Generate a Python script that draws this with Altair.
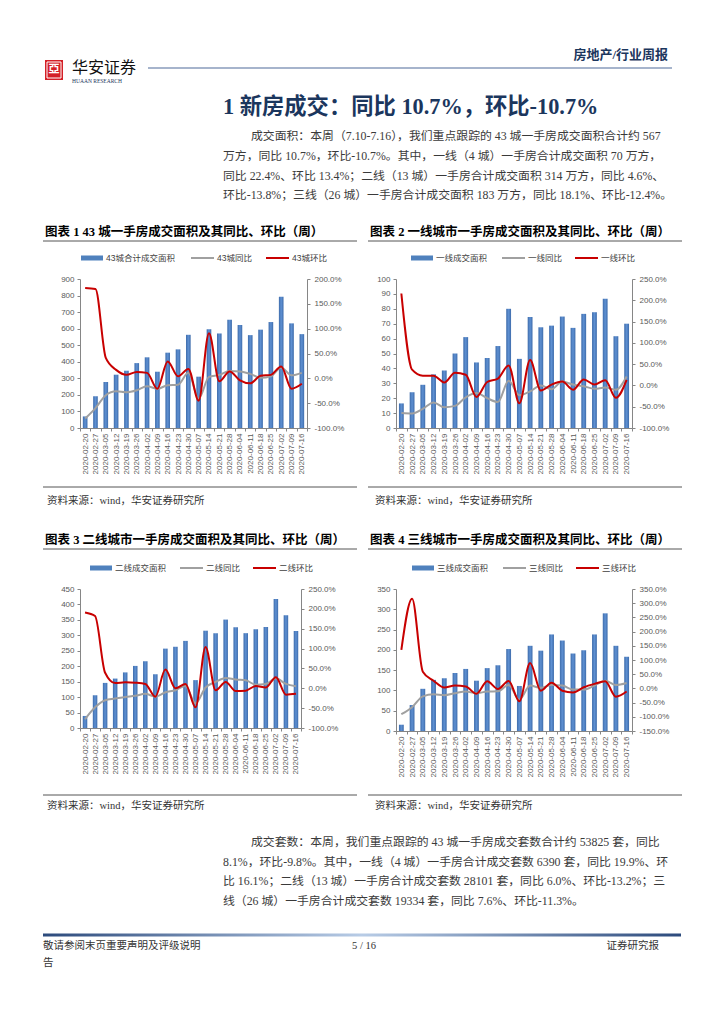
import altair as alt
import pandas as pd

# ---------------- data ----------------
dates = ["2020-02-20", "2020-02-27", "2020-03-05", "2020-03-12", "2020-03-19", "2020-03-26",
         "2020-04-02", "2020-04-09", "2020-04-16", "2020-04-23", "2020-04-30", "2020-05-07",
         "2020-05-14", "2020-05-21", "2020-05-28", "2020-06-04", "2020-06-11", "2020-06-18",
         "2020-06-25", "2020-07-02", "2020-07-09", "2020-07-16"]

area_43 = [70, 192, 278, 322, 346, 392, 427, 340, 455, 475, 563, 310, 596, 571, 654, 622, 561, 594, 640, 793, 632, 567]
yoy_43 = [-81, -60, -34, -26, -28, -24, -16, -21, -14, -13, 11, -41, 3, 7, 15, 14, 9, 1, 4, 22, 6, 11]
mom_43 = [182, 180, 41, 17, 7, 13, 11, -21, 34, 4, 19, -45, 91, -6, 14, -4, -10, 5, 7, 24, -21, -11]

area_t1 = [16.5, 24, 29, 36, 38.6, 50, 61, 44, 47, 55, 80, 46.4, 74.5, 67.6, 68.7, 74.8, 67.2, 76.6, 77.7, 86.8, 61.6, 70]
yoy_t1 = [-65, -66, -55, -40, -51, -48, -28, -18, -30, -39, 11, -23, -14, 0, -9, 9, 2, -2, -8, -5, -10, 21]
mom_t1 = [216, 37, 23, 23, 7, 30, 25, -27, 8, 16, 47, -42, 60, -12, 2, 9, -10, 14, 2, 12, -29, 13]

area_t2 = [39, 106, 146, 160, 180, 201, 216, 174, 257, 263, 282, 155, 315, 307, 351, 326, 307, 320, 327, 418, 365, 314]
yoy_t2 = [-78, -48, -30, -26, -22, -19, -14, -21, -10, -5, 6, -38, 2, 16, 26, 22, 20, 9, 11, 25, 11, 5]
mom_t2 = [191, 182, 39, 13, 15, 14, 11, -21, 47, 0, 11, -48, 104, -5, 16, -7, -6, 6, 2, 28, -16, -14]

area_t3 = [15.5, 64, 104, 126, 130, 143, 153, 124, 155, 162, 202, 111, 210, 198, 238, 223, 191, 199, 238, 290, 210, 183]
yoy_t3 = [-91, -66, -28, -21, -24, -17, -11, -17, -11, -10, 12, -40, 10, 2, 12, 10, -4, -4, 10, 27, 12, 19]
mom_t3 = [136, 316, 59, 27, 3, 10, 7, -19, 25, -2, 26, -45, 89, -8, 20, -8, -14, 4, 16, 25, -29, -11]

names_43 = ["43城合计成交面积", "43城同比", "43城环比"]
names_t1 = ["一线成交面积", "一线同比", "一线环比"]
names_t2 = ["二线成交面积", "二线同比", "二线环比"]
names_t3 = ["三线成交面积", "三线同比", "三线环比"]

captions = ["图表 1 43 城一手房成交面积及其同比、环比（周）",
            "图表 2 一线城市一手房成交面积及其同比、环比（周）",
            "图表 3 二线城市一手房成交面积及其同比、环比（周）",
            "图表 4 三线城市一手房成交面积及其同比、环比（周）"]
source = "资料来源：wind，华安证券研究所"

title_text = "1 新房成交：同比 10.7%，环比-10.7%"
para1 = ["成交面积：本周（7.10-7.16），我们重点跟踪的 43 城一手房成交面积合计约 567",
         "万方，同比 10.7%，环比-10.7%。其中，一线（4 城）一手房合计成交面积 70 万方，",
         "同比 22.4%、环比 13.4%；二线（13 城）一手房合计成交面积 314 万方，同比 4.6%、",
         "环比-13.8%；三线（26 城）一手房合计成交面积 183 万方，同比 18.1%、环比-12.4%。"]
para2 = ["成交套数：本周，我们重点跟踪的 43 城一手房成交套数合计约 53825 套，同比",
         "8.1%，环比-9.8%。其中，一线（4 城）一手房合计成交套数 6390 套，同比 19.9%、环",
         "比 16.1%；二线（13 城）一手房合计成交套数 28101 套，同比 6.0%、环比-13.2%；三",
         "线（26 城）一手房合计成交套数 19334 套，同比 7.6%、环比-11.3%。"]

# ---------------- styles ----------------
SANS = "Liberation Sans, Noto Sans CJK SC"
SERIF = "Liberation Serif, Noto Sans CJK SC"
CJK = "Noto Sans CJK SC"
BLUE = "#4f81bd"
GRAY = "#a0a0a0"
RED = "#c80000"
NAVY = "#1b365d"
AXC = "#868686"
LAB = "#595959"
BARGRAD = alt.LinearGradient(gradient="linear", x1=0, x2=1, y1=0, y2=0,
                             stops=[alt.GradientStop(color="#3e6cab", offset=0),
                                    alt.GradientStop(color="#5e90d2", offset=0.5),
                                    alt.GradientStop(color="#3e6cab", offset=1)])
FOOTGRAD = alt.LinearGradient(gradient="linear", x1=0, x2=1, y1=0, y2=0,
                              stops=[alt.GradientStop(color="#2c4a7c", offset=0),
                                     alt.GradientStop(color="#b8cce6", offset=0.5),
                                     alt.GradientStop(color="#2c4a7c", offset=1)])
PCT = "(datum.value < 0 ? '-' : '') + format(abs(datum.value), '.1f') + '%'"

ONE = pd.DataFrame({"k": [0]})


def txt(s, x, y, size, color="#333333", weight="normal", align="left", font=SERIF):
    return alt.Chart(ONE).mark_text(text=s, fontSize=size, color=color, fontWeight=weight,
                                    align=align, baseline="middle", font=font).encode(
        x=alt.value(x), y=alt.value(y))


def hline(x1, x2, y, color, w=1.0):
    return alt.Chart(ONE).mark_rule(color=color, strokeWidth=w).encode(
        x=alt.value(x1), x2=alt.value(x2), y=alt.value(y))


def box(x1, x2, y1, y2, **kw):
    return alt.Chart(ONE).mark_rect(**kw).encode(
        x=alt.value(x1), x2=alt.value(x2), y=alt.value(y1), y2=alt.value(y2))


def panel(area, yoy, mom, names, w, h, lmax, lstep, pmin, pmax, leg, extra):
    df = pd.DataFrame({"date": dates, "area": area, "yoy": yoy, "mom": mom})
    xenc = alt.X("date:N", sort=None, title=None,
                 scale=alt.Scale(paddingInner=0, paddingOuter=0),
                 axis=alt.Axis(labelAngle=-90, tickBand="extent", labelPadding=2,
                               labelOverlap=False, tickSize=3))
    base = alt.Chart(df)
    bars = base.mark_bar(width=alt.RelativeBandSize(0.45), fill=BARGRAD).encode(
        x=xenc,
        y=alt.Y("area:Q", title=None, scale=alt.Scale(domain=[0, lmax], nice=False),
                axis=alt.Axis(orient="left", values=list(range(0, lmax + 1, lstep)),
                              labelPadding=3, tickSize=3)))
    pscale = alt.Scale(domain=[pmin, pmax], nice=False, zero=False)
    gray = base.mark_line(color=GRAY, strokeWidth=2, interpolate="monotone").encode(
        x=xenc,
        y=alt.Y("yoy:Q", title=None, scale=pscale,
                axis=alt.Axis(orient="right", values=list(range(pmin, pmax + 1, 50)),
                              labelExpr=PCT, labelPadding=4, tickSize=3)))
    red = base.mark_line(color=RED, strokeWidth=2, interpolate="monotone").encode(
        x=xenc, y=alt.Y("mom:Q", title=None, scale=pscale, axis=None))
    lb, lg, lr = leg
    ly = -21
    legend = [
        box(lb, lb + 22, ly - 2.5, ly + 2.5, fill=BLUE),
        txt(names[0], lb + 25, ly, 8.5, "#404040", font=SANS),
        hline(lg, lg + 23, ly, GRAY, 2),
        txt(names[1], lg + 26, ly, 8.5, "#404040", font=SANS),
        hline(lr, lr + 23, ly, RED, 2),
        txt(names[2], lr + 26, ly, 8.5, "#404040", font=SANS),
    ]
    return alt.layer(bars, gray, red, *legend, *extra).resolve_scale(y="independent").properties(
        width=w, height=h)


def frame(cap, x0, x1, ycap, yline1, yline2, ysrc, xsrc):
    return [
        txt(cap, x0 + 2, ycap, 12.5, "#000000", weight="bold"),
        hline(x0, x1, yline1, "#555555", 1),
        hline(x0, x1, yline2, "#555555", 1),
        txt(source, xsrc, ysrc, 10.5, "#333333"),
    ]


# page-level elements, positioned relative to chart 1 plot origin
page = [
    box(-72, 636, -271, 737, opacity=0),
    box(-35, -17, -219, -199, fill="#d42027"),
    box(-33, -19, -217, -201, filled=False, stroke="white", strokeWidth=1),
    txt("亞", -26, -209, 11, "white", weight="bold", align="center", font=CJK),
    txt("华安证券", -8, -211, 16, "#111111", font=CJK),
    txt("HUAAN RESEARCH", -8, -198, 5.5, NAVY, font="Liberation Serif"),
    hline(68, 592, -211, "#4f6a9a", 1.2),
    txt("房地产/行业周报", 588, -224, 13, NAVY, weight="bold", align="right"),
    txt(title_text, 143, -172, 22.3, NAVY, weight="bold"),
]
py1 = [-143, -123, -103.5, -84]
for i, line in enumerate(para1):
    page.append(txt(line, 171 if i == 0 else 143, py1[i], 11.85, "#3a3a3a"))
py2 = [563, 582.5, 602, 621.5]
for i, line in enumerate(para2):
    page.append(txt(line, 171 if i == 0 else 143, py2[i], 11.85, "#3a3a3a"))
page += [
    box(-37, 601, 654.5, 657.5, fill=FOOTGRAD),
    txt("敬请参阅末页重要声明及评级说明", -37, 667, 10.5, "#333333"),
    txt("5 / 16", 284, 667, 10.5, "#333333", align="center"),
    txt("证券研究报", 579, 667, 10.5, "#333333", align="right"),
    txt("告", -37, 684, 10.5, "#333333"),
]

c1 = panel(area_43, yoy_43, mom_43, names_43, 227, 149, 900, 100, -100, 200, (1, 111, 186),
           frame(captions[0], -37, 277, -47, -38, 208, 222, -33) + page)
c2 = panel(area_t1, yoy_t1, mom_t1, names_t1, 236, 149, 100, 10, -100, 250, (15, 106, 179),
           frame(captions[1], -28, 286, -47, -38, 208, 222, -21))
c3 = panel(area_t2, yoy_t2, mom_t2, names_t2, 221, 139, 450, 50, -100, 250, (10, 100, 173),
           frame(captions[2], -37, 277, -49, -40, 206, 217, -33))
c4 = panel(area_t3, yoy_t3, mom_t3, names_t3, 236, 142, 350, 50, -150, 350, (16, 107, 180),
           frame(captions[3], -28, 286, -49, -40, 206, 217, -21))

chart = alt.concat(c1, c2, c3, c4, columns=2, spacing={"row": 161, "column": 80},
                   bounds="flush", align="all").properties(
    padding=0, background="white"
).configure_view(stroke=None).configure_axis(
    labelFont="Liberation Sans", labelFontSize=8, labelColor=LAB,
    domainColor=AXC, tickColor=AXC, grid=False
)

chart.save("out.html", embed_options={"renderer": "svg", "actions": False})
